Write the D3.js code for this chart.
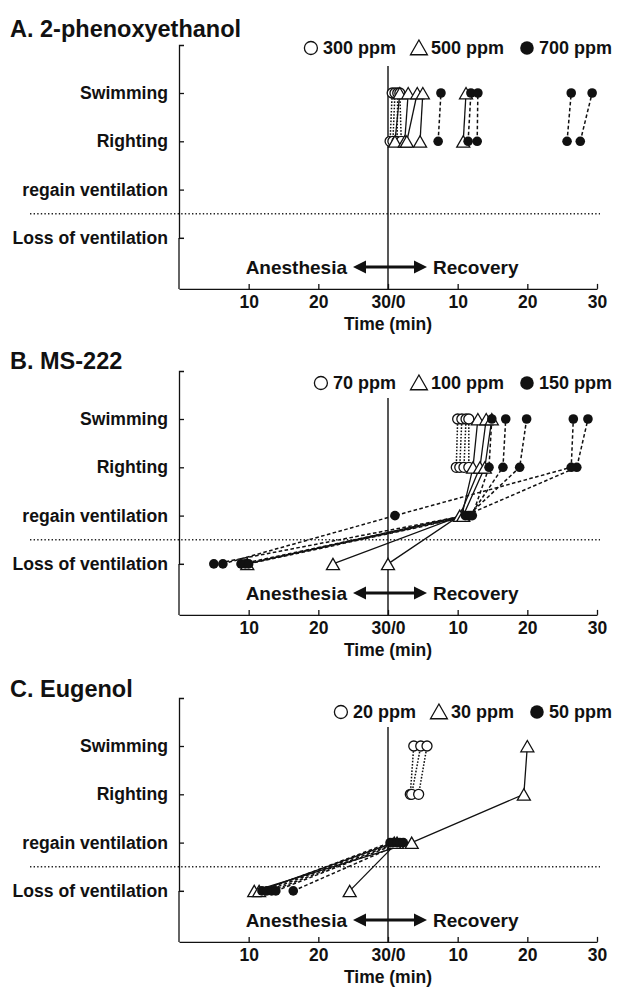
<!DOCTYPE html>
<html><head><meta charset="utf-8">
<script src="https://cdn.jsdelivr.net/npm/d3@7"></script>
<style>
body{margin:0;background:#fff}
text{font-family:"Liberation Sans",Arial,Helvetica,sans-serif;font-weight:bold;fill:#111}
</style>
</head><body>
<svg id="c" width="617" height="992"></svg>
<script>
// ---------- DATA ----------
const levels = ["Loss of ventilation", "regain ventilation", "Righting", "Swimming"];
const xTickValues = [10, 20, 30, 40, 50, 60];
const xTickLabels = ["10", "20", "30/0", "10", "20", "30"];
const titles = ["A. 2-phenoxyethanol", "B. MS-222", "C. Eugenol"];
const concLabels = [["300 ppm", "500 ppm", "700 ppm"], ["70 ppm", "100 ppm", "150 ppm"], ["20 ppm", "30 ppm", "50 ppm"]];
// each fish: [loss of ventilation (anesthesia min), regain ventilation, righting, swimming (recovery min)]
const phenoLow  = [[null,null,0.3,0.6],[null,null,0.7,1.0],[null,null,1.3,1.4],[null,null,1.9,1.7]];
const phenoMid  = [[null,null,1.0,1.7],[null,null,2.4,2.9],[null,null,2.7,4.2],[null,null,4.6,5.0],[null,null,10.8,11.2]];
const phenoHigh = [[null,null,7.2,7.6],[null,null,11.5,11.9],[null,null,12.8,12.9],[null,null,25.7,26.3],[null,null,27.6,29.3]];
const msLow  = [[null,null,9.8,10.0],[null,null,10.3,10.6],[null,null,10.9,11.2],[null,null,11.6,11.6]];
const msMid  = [[22.1,10.6,12.2,12.9],[30.0,10.3,13.2,14.1],[9.8,10.8,13.9,14.9]];
const msHigh = [[5.0,11.1,27.1,28.7],[6.3,1.0,26.3,26.6],[8.9,11.5,18.9,19.9],[9.5,11.8,16.5,16.9],[10.0,12.1,14.5,14.9]];
const euLow  = [[null,null,3.2,3.7],[null,null,3.4,4.7],[null,null,4.4,5.6]];
const euMid  = [[10.8,3.4,19.5,20.0],[24.5,1.3,null,null],[11.5,0.9,null,null]];
const euHigh = [[11.9,0.3,null,null],[12.6,0.7,null,null],[13.3,1.3,null,null],[13.9,1.7,null,null],[16.4,2.2,null,null]];
const panelData = [[phenoLow, phenoMid, phenoHigh], [msLow, msMid, msHigh], [euLow, euMid, euHigh]];

// ---------- LAYOUT ----------
const layout = [
  {swim: 93,  titleY: 37,  legendY: 48,  centerTop: 66},
  {swim: 419, titleY: 369, legendY: 383, centerTop: 398},
  {swim: 746, titleY: 697, legendY: 712, centerTop: 727}
];
const pitch = 48.3;
const svg = d3.select("#c");
const x = d3.scaleLinear().domain([0, 60]).range([179, 597]);
const styles = [
  {dash: "1.6,1.6", width: 1.5},
  {dash: null, width: 1.3},
  {dash: "3.6,2.4", width: 1.5}
];
const triPath = "M0,-6.5L6.5,4.8L-6.5,4.8Z";

function drawMarker(g, kind, cx, cy, big) {
  const k = big ? 1.3 : 1;
  if (kind === 0) {
    g.append("circle").attr("cx", cx).attr("cy", cy).attr("r", 5 * k)
      .attr("fill", "#fff").attr("stroke", "#111").attr("stroke-width", 1.3);
  } else if (kind === 1) {
    g.append("path").attr("d", triPath).attr("transform", `translate(${cx},${cy}) scale(${k})`)
      .attr("fill", "#fff").attr("stroke", "#111").attr("stroke-width", 1.3 / k);
  } else {
    g.append("circle").attr("cx", cx).attr("cy", cy).attr("r", (big ? 6.8 : 4.8))
      .attr("fill", "#111");
  }
}

layout.forEach((L, pi) => {
  const lossY = L.swim + 3 * pitch;
  const axisY = lossY + 51;
  const topY = L.swim - 48;
  const y = d3.scaleLinear().domain([0, 3]).range([lossY, L.swim]);
  const yAx = d3.scaleLinear().domain([0, y.invert(topY)]).range([lossY, topY]);
  const g = svg.append("g");

  // title
  g.append("text").attr("x", 10).attr("y", L.titleY).attr("font-size", 23.5).text(titles[pi]);

  // legend (right aligned)
  const lg = g.append("g");
  let cursor = 612;
  for (let i = 2; i >= 0; i--) {
    const t = lg.append("text").attr("font-size", 18).attr("y", L.legendY + 6.3).text(concLabels[pi][i]);
    const w = t.node().getComputedTextLength();
    cursor -= w;
    t.attr("x", cursor);
    cursor -= 5;
    drawMarker(lg, i, cursor - 7, L.legendY + (i === 1 ? 0.5 : 0), true);
    cursor -= 14 + 16;
  }

  // dotted separator
  g.append("line").attr("x1", 30).attr("x2", 600).attr("y1", y(0.5)).attr("y2", y(0.5))
    .attr("stroke", "#222").attr("stroke-width", 1.3).attr("stroke-dasharray", "1.4,2.2");

  // axes
  const xAxis = d3.axisBottom(x).tickValues(xTickValues)
    .tickFormat((d, i) => xTickLabels[i]).tickSizeInner(-5).tickSizeOuter(0).tickPadding(7);
  const xg = g.append("g").attr("transform", `translate(0,${axisY})`).call(xAxis);
  xg.attr("font-family", null);
  xg.selectAll("text").attr("font-size", 17.5);
  const yAxis = d3.axisLeft(yAx).tickValues([0, 1, 2, 3])
    .tickFormat(d => levels[d]).tickSizeInner(-5).tickSizeOuter(-5).tickPadding(11);
  const yg = g.append("g").attr("transform", `translate(${x(0)},0)`).call(yAxis);
  yg.attr("font-family", null);
  yg.selectAll("text").attr("font-size", 17.6);
  g.append("line").attr("x1", x(0)).attr("x2", x(0)).attr("y1", lossY).attr("y2", axisY)
    .attr("stroke", "#111").attr("stroke-width", 1.3);
  [xg, yg].forEach(a => {
    a.selectAll("path,line").attr("stroke", "#111").attr("stroke-width", 1.3);
  });

  // center line
  g.append("line").attr("x1", x(30)).attr("x2", x(30)).attr("y1", L.centerTop).attr("y2", axisY)
    .attr("stroke", "#111").attr("stroke-width", 1.4);

  // anesthesia / recovery
  const ay = L.swim + 174;
  g.append("text").attr("x", 347).attr("y", ay + 6.8).attr("text-anchor", "end").attr("font-size", 19).text("Anesthesia");
  g.append("text").attr("x", 433).attr("y", ay + 6.8).attr("font-size", 19).text("Recovery");
  g.append("line").attr("x1", 362).attr("x2", 418).attr("y1", ay).attr("y2", ay)
    .attr("stroke", "#111").attr("stroke-width", 3);
  g.append("path").attr("d", `M353,${ay}L366,${ay - 6.5}L366,${ay + 6.5}Z`).attr("fill", "#111");
  g.append("path").attr("d", `M427,${ay}L414,${ay - 6.5}L414,${ay + 6.5}Z`).attr("fill", "#111");

  // time label
  g.append("text").attr("x", x(30)).attr("y", axisY + 41.5).attr("text-anchor", "middle").attr("font-size", 17.5).text("Time (min)");

  // data
  const pos = (v, lev) => [x(lev === 0 ? v : 30 + v), y(lev)];
  const series = panelData[pi];
  const lineGen = d3.line();
  series.forEach((fishes, si) => {
    fishes.forEach(f => {
      const pts = [];
      f.forEach((v, lev) => { if (v !== null) pts.push(pos(v, lev)); });
      g.append("path").attr("d", lineGen(pts)).attr("fill", "none").attr("stroke", "#111")
        .attr("stroke-width", styles[si].width).attr("stroke-dasharray", styles[si].dash);
    });
  });
  series.forEach((fishes, si) => {
    fishes.forEach(f => {
      f.forEach((v, lev) => {
        if (v === null) return;
        const p = pos(v, lev);
        drawMarker(g, si, p[0], p[1] + (si === 1 ? 1 : 0), false);
      });
    });
  });
});
</script>
</body></html>
